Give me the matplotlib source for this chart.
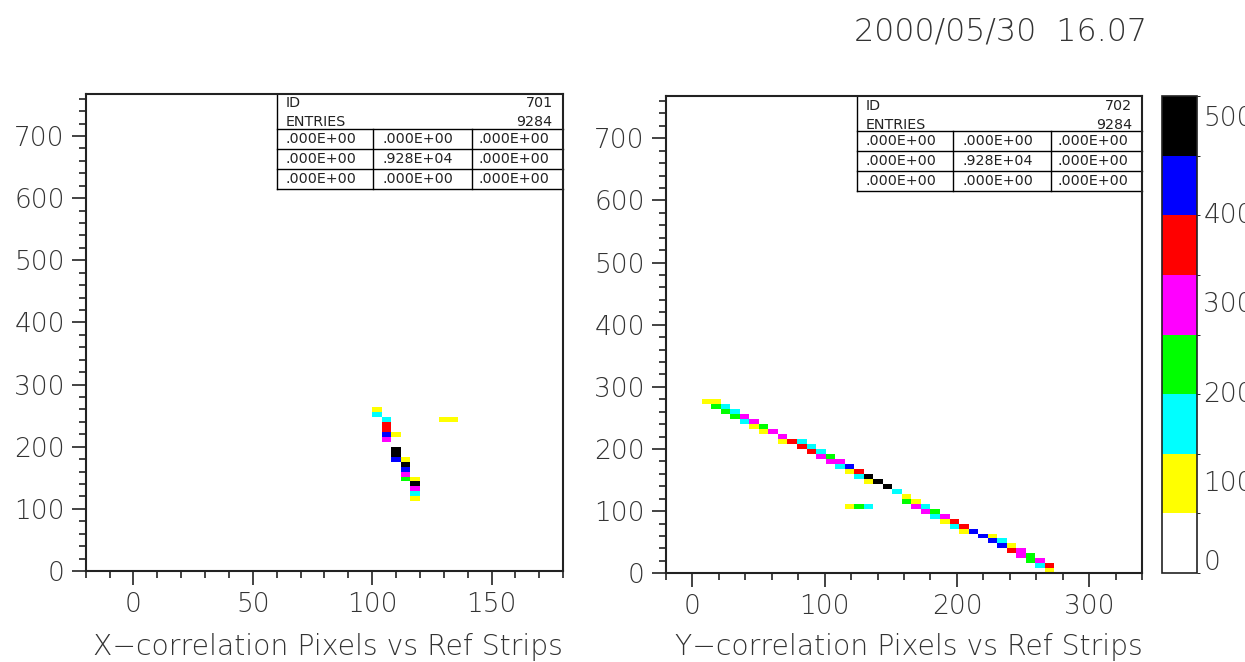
import matplotlib
matplotlib.use("Agg")
import matplotlib.pyplot as plt
import numpy as np
from matplotlib.colors import ListedColormap, BoundaryNorm
from matplotlib.ticker import MultipleLocator

# colour levels (8 bands, PAW style)
level_max = 533
band_colors = ['white', '#ffff00', '#00ffff', '#00ff00', '#ff00ff', '#ff0000', '#0000ff', '#000000']
cbar_labels = [0, 100, 200, 300, 400, 500]

# representative counts per colour
Y, C, G, M, R, B, K = 100, 170, 230, 300, 370, 430, 500

# histogram 701 : 50 x bins over 0..200, 96 y bins over 0..768
h1_xbin = [25, 25, 26, 26, 26, 26, 26, 27, 27, 27, 27, 28, 28, 28, 28, 28, 29, 29, 29, 29, 29, 32, 33]
h1_ybin = [32, 31, 30, 29, 28, 27, 26, 27, 24, 23, 22, 22, 21, 20, 19, 18, 18, 17, 16, 15, 14, 30, 30]
h1_val = [Y, C, C, R, R, B, M, Y, K, K, B, Y, K, B, M, G, Y, K, M, C, Y, Y, Y]

# histogram 702 : 50 x bins over 0..360, 96 y bins over 0..768
h2_xbin = [1, 2, 2, 3, 3, 4, 4, 5, 5, 6, 6, 7, 7, 8, 9, 9, 10, 11, 11, 12, 12, 13, 13, 14, 14, 15, 15,
           16, 16, 17, 17, 18, 18, 19, 20, 21, 22, 22, 23, 23, 16, 17, 18,
           24, 24, 25, 25, 26, 26, 27, 27, 28, 28, 29, 30, 31, 31, 32, 32, 33, 33, 34, 34, 35, 35, 36, 36, 37, 37]
h2_ybin = [34, 34, 33, 33, 32, 32, 31, 31, 30, 30, 29, 29, 28, 28, 27, 26, 26, 26, 25, 25, 24, 24, 23, 23, 22, 22, 21,
           21, 20, 20, 19, 19, 18, 18, 17, 16, 15, 14, 14, 13, 13, 13, 13,
           13, 12, 12, 11, 11, 10, 10, 9, 9, 8, 8, 7, 7, 6, 6, 5, 5, 4, 4, 3, 3, 2, 2, 1, 1, 0]
h2_val = [Y, Y, G, C, G, C, G, M, C, M, Y, G, Y, M, M, Y, R, C, R, C, R, C, M, G, M, M, C,
          B, Y, R, C, K, Y, K, K, C, Y, G, Y, M, Y, G, C,
          C, M, G, C, M, Y, R, C, R, Y, B, B, Y, B, C, B, Y, R, M, M, G, G, M, C, R, Y]

stats_rows = [[".000E+00", ".000E+00", ".000E+00"],
              [".000E+00", ".928E+04", ".000E+00"],
              [".000E+00", ".000E+00", ".000E+00"]]
entries = 9284

levels = np.linspace(0, level_max, len(band_colors) + 1)
cmap = ListedColormap(band_colors)
norm = BoundaryNorm(levels, cmap.N)

txt_col = '#333333'
tick_fs = 19

fig = plt.figure(figsize=(12.45, 6.62), dpi=100)


def fill_grid(xb, yb, vals, nx, ny):
    grid = np.full((ny, nx), np.nan)
    for i, j, v in zip(xb, yb, vals):
        grid[j, i] = v
    return grid


def style_axes(ax, xlim, xmaj, xmin):
    ax.set_xlim(*xlim)
    ax.set_ylim(0, 768)
    ax.xaxis.set_major_locator(MultipleLocator(xmaj))
    ax.xaxis.set_minor_locator(MultipleLocator(xmin))
    ax.yaxis.set_major_locator(MultipleLocator(100))
    ax.yaxis.set_minor_locator(MultipleLocator(20))
    ax.tick_params(which='major', direction='out', length=10, width=1.2, color='#222222',
                   labelsize=tick_fs, labelcolor=txt_col, pad=5)
    ax.tick_params(which='minor', direction='out', length=5, width=1.2, color='#222222')
    for lab in ax.get_xticklabels() + ax.get_yticklabels():
        lab.set_fontweight('light')
    for s in ax.spines.values():
        s.set_linewidth(1.5)
        s.set_color('#222222')


def draw_stats(ax, hid):
    x0, y_bot = 0.401, 0.800
    kw = dict(transform=ax.transAxes, color='black', lw=1.0, clip_on=False)
    ax.plot([x0, x0], [y_bot, 1.0], **kw)
    for yy in [0.926, 0.884, 0.842, 0.800]:
        ax.plot([x0, 1.0], [yy, yy], **kw)
    for xx in [0.602, 0.808]:
        ax.plot([xx, xx], [y_bot, 0.926], **kw)
    tkw = dict(transform=ax.transAxes, fontsize=10.3, color='#222222', va='center')
    ax.text(0.419, 0.980, "ID", **tkw)
    ax.text(0.978, 0.980, str(hid), ha='right', **tkw)
    ax.text(0.419, 0.940, "ENTRIES", **tkw)
    ax.text(0.978, 0.940, str(entries), ha='right', **tkw)
    for r, yy in zip(stats_rows, [0.905, 0.863, 0.821]):
        for s, xx in zip(r, [0.419, 0.622, 0.822]):
            ax.text(xx, yy, s, **tkw)


# left panel
ax1 = fig.add_axes([0.0688, 0.1375, 0.3836, 0.721])
xe1 = np.linspace(0, 200, 51)
ye = np.linspace(0, 768, 97)
ax1.pcolormesh(xe1, ye, fill_grid(h1_xbin, h1_ybin, h1_val, 50, 96), cmap=cmap, norm=norm)
style_axes(ax1, (-20, 180), 50, 10)
draw_stats(ax1, 701)
ax1.text(1.0, -0.159, "X\u2212correlation Pixels vs Ref Strips", transform=ax1.transAxes,
         ha='right', va='center', fontsize=20.3, color=txt_col, fontweight='light')

# right panel
ax2 = fig.add_axes([0.5347, 0.134, 0.3828, 0.721])
xe2 = np.linspace(0, 360, 51)
mesh = ax2.pcolormesh(xe2, ye, fill_grid(h2_xbin, h2_ybin, h2_val, 50, 96), cmap=cmap, norm=norm)
style_axes(ax2, (-20, 340), 100, 20)
draw_stats(ax2, 702)
ax2.text(1.0, -0.155, "Y\u2212correlation Pixels vs Ref Strips", transform=ax2.transAxes,
         ha='right', va='center', fontsize=20.3, color=txt_col, fontweight='light')

# colour scale
cax = fig.add_axes([0.9333, 0.1344, 0.0281, 0.7206])
cb = fig.colorbar(mesh, cax=cax, boundaries=levels, values=levels[:-1] + 1)
cb.set_ticks([])
cb.outline.set_linewidth(1.2)
cb.outline.set_edgecolor('#222222')
for v in cbar_labels:
    yv = v
    if v == 0:
        yv = 12
    elif v == 500:
        yv = 508
    cax.text(1.18, yv, str(v), transform=cax.get_yaxis_transform(), ha='left', va='center',
             fontsize=tick_fs, color=txt_col, fontweight='light', clip_on=False)

fig.text(1147 / 1245, 1 - 31 / 662, "2000/05/30  16.07", ha='right', va='center',
         fontsize=22.8, color=txt_col, fontweight='light')

fig.savefig("out.png", dpi=100, facecolor='white')
